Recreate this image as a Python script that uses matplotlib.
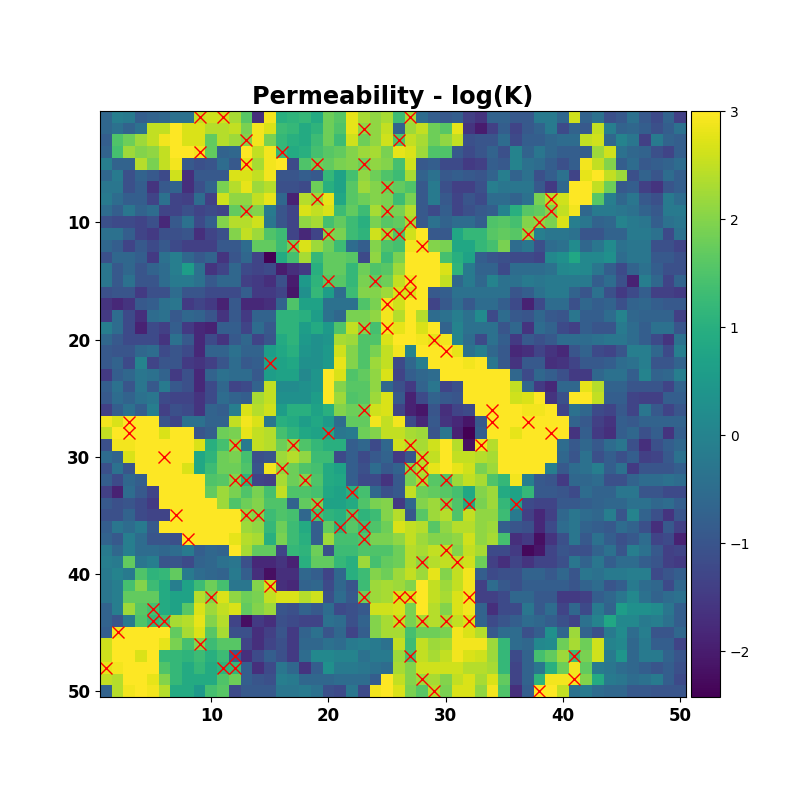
import numpy as np
import matplotlib
matplotlib.use("Agg")
import matplotlib.pyplot as plt
from mpl_toolkits.axes_grid1 import make_axes_locatable

title = "Permeability - log(K)"

# each row: columns 1-25 then columns 26-50
rows_top = [
[-0.6,-0.1,-0.2,-0.8,-0.7,-0.6,-0.4,-0.4,2.5,2.6,2.6,2.3,1.6,-1.7,2.9,1.0,1.1,1.2,0.9,1.8,1.6,2.8,2.3,2.1,2.3, 1.3,2.3,-0.5,-0.8,-0.9,-0.8,-1.4,-1.6,-0.7,-0.7,-0.9,-0.9,-0.2,-0.2,-0.6,2.6,-0.7,-0.4,-1.1,-0.9,-0.4,-0.9,-1.2,-0.7,-1.4],
[-0.6,-0.4,-0.7,-0.4,2.5,2.5,3,2.7,2.7,2.4,2.4,2.5,1.9,2.9,2.7,1.3,1.2,0.9,1.1,1.8,1.5,2.8,2.1,2.1,2.5, -0.7,2.2,2.5,1.8,1.6,2.8,-1.6,-2.0,-1.4,-0.8,-1.3,-0.9,-0.7,-0.2,-1.2,-0.7,-0.9,2.5,-0.1,-0.7,-0.6,-0.8,-1.1,-0.8,-0.4],
[-0.8,1.5,1.8,2.2,2.5,2.9,3,2.7,2.7,1.7,2.4,2.2,2.0,2.9,1.9,1.2,1.0,0.9,1.3,1.8,1.3,2.6,1.8,2.1,2.6, 1.5,2.5,2.3,1.8,2.1,2.5,-1.1,-1,-1,-0.5,-1.2,-0.8,-0.8,-0.6,-0.5,-0.5,2.5,2.6,-0.6,0.0,-0.3,-1.4,-0.2,-0.7,-0.8],
[-0.7,1.4,2.2,2.0,2.1,2.5,3,3,2.9,1.7,-0.7,-0.6,3,2.5,2.9,1.2,0.9,1.0,1.4,1.6,1.7,2.0,2.2,2.3,1.9, 2.8,2.7,2.2,1.5,1.5,-0.9,-1.2,-1,-0.7,-1.1,0.0,-0.7,-0.3,-0.6,-0.8,-0.8,-0.8,2.2,2.6,-0.4,-0.6,-0.7,-1.1,-1.3,-0.8],
[-0.1,-0.7,-0.7,2.4,1.9,2.5,2.9,-0.9,-1.1,-1,-0.5,-0.9,2.8,2.3,2.9,3,-1.2,1.5,1.8,1.7,1.9,2.0,1.8,2.1,2.0, 1.4,2.6,-0.9,-0.8,-1.2,-1.2,-1.5,-1.4,-0.8,-0.9,0.0,-0.4,-0.5,-0.8,-1.1,-0.8,2.9,2.5,2.0,-0.8,-0.5,-0.9,-0.8,-0.7,-0.5],
[-0.6,-0.2,-1.1,-0.7,-0.9,-1.2,2.6,-1.7,-0.9,-0.9,-0.9,2.7,2.7,2.5,2.9,-1.0,-1.0,-0.8,-0.9,1.2,0.7,1.4,2.1,1.8,1.5, 1.3,2.3,-0.7,-0.4,-0.9,-0.8,-0.9,-1.0,-0.7,-0.1,-0.7,-0.4,-1.1,-0.8,-0.4,-1.3,2.8,3,2.5,2.2,-1.1,-0.7,-1,-0.5,-0.8],
[-0.3,-0.3,-1.1,-0.8,-1.6,-0.9,-0.7,-1.7,-1.1,-0.7,1.9,2.4,2.8,2.2,2.4,-1.1,-1.1,-1.2,1.8,1.0,0.7,1.6,2.2,2.0,1.8, 1.7,1.5,-0.9,-0.2,-1.1,-1.4,-1.4,-1.1,-0.1,-0.3,-0.3,-0.3,-0.9,-1.5,-0.6,3,3,2.5,1.8,-0.9,-0.8,-1.4,-1.6,-1.0,-0.8],
[-0.2,-0.5,-0.8,-0.8,-1.3,-0.4,-1.3,-1.4,-0.5,-1.4,2.6,2.1,2.1,2.5,2.8,-0.6,-1.9,2.4,2.2,2.8,0.8,1.6,1.8,2.0,1.9, 1.3,1.9,-0.9,-0.2,-0.9,-1.3,-1,-1.2,-0.5,-0.5,-0.7,-0.4,1.9,2.4,2.6,3,3,1.6,-0.1,-0.6,-0.3,-0.9,-1.1,-0.2,-0.5],
[-0.5,-0.8,-0.3,-0.7,-0.5,-1.3,-1.3,-1.1,-1.3,-1.2,-1.3,1.7,1.9,2.0,-0.2,-1,-1.3,2.7,2.5,2.7,1.3,1.7,1.3,2.3,1.9, 1.9,2.4,-0.9,-1.2,-0.8,-1.3,-1.1,-0.9,-0.8,-0.0,1.0,1.6,1.7,2.0,2.5,2.9,-0.6,-0.2,-0.2,-0.3,-0.4,-0.7,-0.9,-0.2,-0.2],
[-1.1,-1.2,-1.2,-1.3,-1.1,-1.8,-0.9,-0.4,-1.2,-0.8,2.0,2.4,2.4,2.6,-0.3,-1,-1.3,2.1,2.3,1.4,1.7,1.3,1.0,1.9,1.6, 1.7,2.3,-0.9,-0.4,-0.7,-0.5,-0.5,-0.8,1.5,1.6,1.4,2.0,2.1,1.9,2.7,-0.1,-0.3,-0.7,-0.6,0.0,-0.2,-0.3,-0.8,-0.4,-0.3],
[-0.4,-0.4,-0.8,-1.3,-1.5,-1.1,-1.1,-1.0,-1.7,-1.3,-1.1,2,2.5,2.2,1.5,1.3,-1.3,-1.8,-1.3,2.0,1.9,1.3,1.1,2.6,2.2, 1.5,2.6,3,-0.9,-0.9,0.8,1.2,1.2,1.6,1.7,1.6,2.1,-0.1,-0.3,-0.3,-0.4,-1.0,-1.0,-0.7,-0.7,-0.2,-0.2,-0.4,-1.2,-0.4],
[-0.6,-0.8,-1.3,-0.9,-1.2,-0.9,-1.2,-1.4,-1.4,-1.4,-0.9,-0.9,-0.5,1.7,1.7,1.3,1.8,2.7,2.2,1.8,1.3,-0.5,-0.8,2,1.5, 1.4,2.9,2.9,2.0,1.9,0.8,0.8,1.2,1.4,1.9,-0.5,-0.3,-1.1,-0.5,-0.4,0.2,-0.6,-0.3,0.2,-0.4,-0.3,-0.3,-1.1,-1.1,-1.3],
[-1.1,-0.6,-0.6,-0.8,-1.5,-0.4,-0.1,-0.6,-0.9,-0.7,-1.6,-1.0,-0.6,-1.3,-2.4,0.9,1.4,2.3,1.2,1.7,1.7,1.6,-1.2,2.1,1.3, 1.9,3,3,3,1.4,1.0,0.7,-0.8,-1,-1.1,-1.2,-1.2,-1.3,0.1,0.3,0.8,0.1,0.1,0.3,-0.5,-0.3,-0.3,-0.9,-0.9,-1.1],
[-0.3,-0.9,-0.6,-1.0,-0.7,-0.5,-0.1,0.6,-0.4,-1.6,-1.3,-0.6,-1.2,-1.3,-1.2,-2.0,-1.7,-1.5,1.0,1.7,1.7,1.2,1.8,1.5,1.6, 2.2,3,3,3,2.7,1.1,-0.2,-0.7,-0.7,-1.2,-0.5,-0.5,-0.5,-0.4,0.1,0.2,0.1,-0.3,-0.8,-1.2,-0.7,-0.4,-0.8,-1.1,-1.1],
[-0.3,-0.9,-0.4,-1.0,-1.0,-0.5,-0.2,-0.2,-0.4,-0.9,-0.6,-0.6,-1.4,-1.5,-1.7,-1.1,-2.0,0.5,1.1,1.6,1.6,1.2,1.9,1.7,1.8, 2.5,2.9,3,3,2.5,-0.6,-0.2,-0.6,0.0,-0.4,-0.4,-0.2,-0.3,-0.2,-0.2,-0.2,-0.2,-0.8,-0.5,-1.1,-1.9,-0.1,-0.6,-1.3,-0.7],
[-1.1,-1,-1,-1.5,-1.1,-1.1,-0.5,-1,-1,-1.2,-1.2,-1.2,-0.8,-1.5,-1.5,-1.3,-2.1,0.3,1.2,0.6,-0.5,1.3,2,2,2.2, 2.7,2.7,3,-0.9,-0.8,-0.4,-0.4,-0.4,-0.4,-0.4,-1.0,-0.8,-0.4,-0.2,-0.2,-0.7,-1,-0.4,-1.1,-1.5,-1.2,-0.8,-1.4,-1.4,-1.5],
[-1.6,-1.8,-1.6,-0.9,-0.8,-0.4,-0.3,-1.5,-1.3,-1.5,-1.9,-0.9,-1.8,-1.8,-1.7,-0.7,1.5,0.7,0.7,-0.4,-0.4,-0.4,1.5,1.9,2.9, 2.6,3,3,-1.3,-0.9,-0.5,-0.9,-0.5,-0.5,-0.8,-1.2,-1.9,-1.2,-0.5,-0.5,-1.1,-0.6,-0.8,-0.7,-1.1,-0.7,-0.6,-0.8,-0.9,-0.9],
[-1.5,-0.5,-1.2,-1.7,-0.5,-0.4,-0.9,-0.6,-0.7,-1,-1.6,-0.9,-1.5,-0.7,-0.7,1.1,1.1,1.0,0.6,-0.4,-0.6,1.9,1.9,2.1,2.9, 2.4,3,2.4,-0.5,-0.4,-0.1,-0.4,0.2,-1.2,-0.5,-0.9,-1.0,-0.6,-0.9,-1.0,-0.3,-0.8,-0.8,-0.5,0.0,-0.6,-0.7,-0.7,-0.7,-1.4],
[-0.1,-0.5,-1.2,-1.9,-1.2,-1.4,-0.8,-1.5,-1.8,-1.9,-0.8,-0.8,-1.3,-0.5,-0.9,1.1,1.1,0.6,0.9,0.5,1.5,2.5,2.0,1.4,2.9, 2.8,3,2.7,3,-0.7,0.0,-0.4,-0.4,-0.4,-1.0,-0.6,-1.6,-0.5,-0.7,-1.2,-1.4,-0.8,-1,-1,-0.2,-0.5,-0.8,-0.4,-0.4,-1],
[-0.6,-0.9,-1.2,-1.2,-1.2,-1.6,-0.4,-0.9,-1.8,-1.2,-1.6,-0.9,-0.6,-1.3,-1.0,0.9,1.1,0.5,0.3,0.4,2.3,2.2,1.5,1.5,2.7, 3,3,2.9,2.8,2.9,0.0,-0.5,-1.2,-0.4,-0.8,-1.5,-0.9,-1.1,-0.9,-0.5,-0.5,-0.5,-0.4,-0.3,-0.3,-0.5,-0.8,-1.2,-1.6,-0.4],
[-0.9,-1,-1,-0.6,-0.5,-1.2,-1,-1.2,-1.8,-0.7,-0.7,-0.4,-0.7,-0.7,0.6,0.8,1.0,0.4,0.3,0.5,2.6,2.0,1.5,1.9,2.5, 2.9,-0.0,3,3,3,2.8,-0.4,-0.1,-0.6,-0.9,-1.8,-1.7,-1.3,-1.6,-1.8,-1.0,-0.7,-1.2,-1.3,-1.0,-0.1,-0.1,-0.6,-1.2,-0.1],
[-0.9,-0.7,-1.2,-0.0,-1.3,-1,-1,-1.5,-1.6,-1.4,-1,-0.5,-0.9,-0.8,0.7,0.7,0.8,0.3,0.3,0.5,2.8,2.0,1.5,2.2,2.5, -1.2,-0.6,-0.1,3,3,3,2.9,3,-0.3,-0.9,-1.6,-0.9,-0.9,-1.7,-1.6,-1.3,-0.9,-0.9,-0.8,-0.5,-0.4,-0.1,-1,-1,-0.7],
[-1.5,-0.8,-0.6,-0.3,-0.4,-0.7,-1.5,-1.1,-1.8,-0.7,-0.4,-0.5,-0.5,-0.9,0.6,0.7,0.7,0.1,0.4,3,2.7,1.5,1.7,2.1,2.7, -1.3,-0.8,-0.6,-0.5,3,3,3,3,3,3,-0.6,-1.2,-0.6,-0.8,-1.1,-1.5,-1.5,-0.6,-0.4,-0.4,-0.8,0.0,-0.7,-0.6,-0.1],
[-0.8,-0.4,-1,-0.3,-0.9,-0.2,-0.9,-1.1,-1.8,-1.2,-0.6,-1.3,-1.2,-0.7,2.5,0.2,0.2,0.3,0.4,3,2,1.6,1.6,2.1,-0.6, -1.1,-1.5,-0.7,-0.3,-1.3,-1.1,3,3,3,3,2.5,-0.6,-1.5,-1.8,-0.6,-0.6,2.8,2.4,-0.7,-0.7,-1,-1,-1,-1.3,-0.7],
[-0.9,-0.5,-0.7,-0.4,-0.3,-1.2,-1.3,-1.3,-1.6,-1.2,-0.5,-0.7,-0.8,2.3,2.5,0.3,0.3,0.3,0.6,3,2.2,1.5,1.6,2.2,2.7, -0.9,-1.9,-1.2,-0.7,-0.9,-1.0,3,3,3,3,2.6,2.7,3,-1.6,-1.1,3,3,2.5,-0.8,-0.8,-1.3,-1.4,-1.4,-0.8,-0.8],
]
rows_bottom = [
[-1.4,-0.8,-0.4,-0.8,-0.1,-1.4,-1.1,-1.2,-1.6,-0.7,-0.8,-0.1,2.7,2.4,2.6,0.6,1.0,1.0,0.7,1.0,2.0,1.8,1.8,2.6,2.7, -1.3,-1.9,-2.1,-1.0,-1.7,-1.3,-1.2,3,3,3,3,2.9,2.9,3,-1.3,-0.4,-0.6,-1.2,-1.3,-0.9,-1.3,-0.3,-0.9,-1.3,-1.0],
[2.9,2.7,3,3,3,-1.0,-1.3,-0.4,-0.4,-0.7,-0.7,2.5,2.9,2.7,-0.3,1.0,0.9,0.6,0.8,0.5,-0.5,1.7,1.7,2.9,2.5, 2.9,-1.2,-1.8,-0.9,-1.6,-1.8,-2.1,-0.9,3,3,3,3,3,3,3,-0.7,-0.9,-1.4,-1.6,-0.8,-0.9,-0.7,-0.7,-0.7,-0.7],
[2.5,3,3,3,3,2.7,3,3,-1.0,-0.8,1.8,1.9,2.8,2.5,2.4,1.4,1.1,0.8,0.7,0.8,-0.3,-0.2,1.8,2.0,2.5, 2.5,2.3,2.2,-1.0,-0.3,-1.9,-2.4,-0.8,3,3,2.8,3,3,3,3,-1.6,-0.8,-1.5,-1.7,-0.8,-0.6,-1.1,-0.8,-1.6,-0.8],
[-1.1,2.9,2.9,3,3,3,3,3,2.7,1.0,1.4,2.1,-0.2,2.5,2.4,1.8,2.1,1.5,1.2,1.0,1.0,-0.8,-0.6,-1.2,-0.6, 2.6,2.4,2.3,2.6,3,2.4,-2.2,2.9,2.4,3,3,3,3,3,-0.5,-0.9,-0.6,-0.9,-0.5,-0.3,-1.1,-1.7,-1.1,-0.8,-0.6],
[-0.5,-0.7,2.7,3,3,3,3,3,0.8,1.1,1.8,1.9,1.4,-1.1,-1.0,2.2,2.4,2.1,1.3,1.3,-1.2,-0.8,-1.2,-0.9,-0.7, -1.5,-1.0,2.4,2.5,3,2.5,2.5,2.4,2.3,3,3,3,3,3,-0.6,-1,-0.4,-1.1,-0.8,-1.1,-0.8,-1.4,-1.3,-0.9,-0.4],
[-1.1,-0.4,-1.0,3,3,3,3,2.7,0.8,1.3,1.8,1.8,1.5,-1.0,2.9,2.1,1.8,1.5,1.4,0.9,0.7,-0.8,-1.1,-0.5,-0.9, -0.7,2.0,2.4,2.8,3,2.8,2.6,1.9,2.2,3,3,3,3,-0.1,-0.9,-0.5,-0.4,-0.1,-0.8,-0.4,-1.5,-1.0,-1.0,-1.0,-0.8],
[-0.8,-1.2,-0.6,-0.8,3,3,3,3,3,1.5,1.6,2.0,1.1,-1.3,-1.4,2.3,1.8,2.0,1.5,0.9,0.8,-0.8,-1.2,-1.2,-1.6, -0.9,1.9,2.3,1.6,1.5,2.2,2.5,2.3,1.5,1.2,2.9,-0.1,-0.9,-1.0,-1.5,-0.6,-0.6,-0.5,-1.1,-1.1,-0.7,-0.5,-0.5,-0.4,-0.5],
[-1.4,-1.9,-0.5,-0.9,-1.3,3,3,3,3,1.7,2.2,1.9,1.5,1.9,1.4,2.5,1.5,1.5,1.4,0.8,0.7,1.0,1.4,-0.6,-1.1, -0.9,2.5,1.8,1.7,1.6,1.4,0.8,2.0,2.2,0.9,0.7,1.2,-0.9,-0.9,-1.0,-1.2,-0.5,-0.7,-0.7,-0.3,-0.3,-1,-1,-1.2,-1.2],
[-0.9,-1.1,-1.0,-1.2,-1.5,3,3,3,3,3,2.2,1.5,1.8,2.0,1.5,1.5,-0.7,1.7,1.9,0.7,0.7,0.9,1.5,1.9,2.0, -1.5,-0.6,2.0,2.2,1.9,1.5,0.9,1.9,2.2,1.2,0.7,-1.2,-1.3,-1.3,-0.9,-0.9,-0.8,-0.7,-0.6,-0.6,-0.4,-0.4,-0.6,-0.5,-0.8],
[-1.1,-1.1,-0.7,-1.2,-1.3,-1.3,3,3,3,3,3,3,2.1,2.0,1.3,1.5,1.4,-0.6,1.4,1.1,1.0,1.5,1.1,1.3,2.0, 2.4,-0.9,1.6,2.2,2.4,1.5,2.5,2.1,2.1,1.3,-0.2,-1.4,-1.8,-1.4,-0.6,-0.3,-0.5,-0.6,-0.1,-1.0,0.0,-0.7,-1.1,-1.6,-1.0],
[-0.8,-0.3,-0.5,-0.2,-0.9,3,3,3,3,3,3,3,2.2,2.1,1.2,1.8,1.3,0.9,-0.8,1.7,1.1,1.6,1.3,1.5,1.8, 2.7,2.5,2.4,1.6,2.1,2.4,2.4,2.1,2.2,-0.8,-1.0,-1.1,-1.8,-1.2,-0.5,-0.3,-0.7,-0.8,-0.9,-0.5,-0.7,-1.1,-1.7,-0.9,-1.4],
[-0.7,-0.9,-0.1,-0.5,-1,-1,-1.1,3,3,3,3,2.8,2.4,2.3,1.0,1.9,1.3,1.0,-0.8,2.2,1.4,1.4,1.5,1.9,1.9, 2.1,2.5,2.2,2.0,2.0,2.1,2.6,2.1,2.3,1.4,-1.7,-1.5,-2.2,-1.6,-1.1,-0.3,-0.9,-0.4,-0.8,-1.1,-0.9,-0.5,-1.3,-1.2,-1.9],
[-0.2,-0.6,-0.1,-0.5,-0.5,-0.6,-0.5,-0.2,-0.8,-0.6,-0.7,3,2.3,1.7,1.7,-1.3,1.2,1.1,1.8,-1.1,1.3,1.3,1.5,1.5,1.5, 1.8,2.4,2.3,2.5,2.5,2.0,2.5,2.3,-1.2,-1.2,-1.5,-2.3,-2.1,-1.3,-1.0,-1.1,-1.1,-0.7,-0.4,-1.0,-0.1,-0.4,-0.9,-1.4,-1.3],
[-0.1,-0.2,1.7,-0.3,-0.1,-1,-1,-1.2,-0.7,-0.6,-0.4,-0.3,-1.1,-1.8,-1.8,-1.6,-1.9,1.0,1.7,1.7,1.2,1.0,2.2,1.4,1.7, 1.8,2.4,2.1,2.4,2.5,2.5,2.6,1.8,-1.4,-1.7,-1.3,-1.6,-1.3,-1.3,-1.1,-0.3,-0.7,-0.3,-0.8,-0.5,-0.5,-0.8,-1.0,-1.4,-1.5],
[-0.2,0.0,-0.2,1.5,1.1,1.2,1.7,-0.2,-0.5,-0.6,-0.7,-0.2,-0.8,-1.7,-2.2,-1.7,-1.7,-0.6,-0.8,-1.3,-0.6,1.0,1.3,2.0,1.8, 2.2,2.5,2.2,2.8,2.0,2.5,2.9,-0.8,-1.2,-1.1,-1.1,-0.7,-0.7,-0.9,-0.6,-1.0,-0.3,-0.4,-0.2,-0.2,-0.1,-0.1,-1.2,-1.0,-0.8],
[-0.3,-0.1,1.4,2.0,1.3,0.9,-0.1,0.7,1.3,1.8,1.4,-0.3,-0.3,2.0,2.6,-1.7,-1.8,-0.7,-0.6,-1.2,-0.6,-1.0,1.3,2.2,2.3, 2.2,2.0,3,2.5,2.2,2.5,2.9,-1.4,-0.5,-0.9,-1.1,-0.8,-0.8,-0.8,-0.8,-1,-0.7,-0.5,-1,-0.8,-0.2,-0.5,-0.6,-1.2,-0.6],
[-0.3,-0.1,1.7,1.7,1.7,0.9,0.7,0.7,2.4,2.0,2.7,2.1,1.8,1.9,2.5,2.7,2.7,2.4,2.6,-1.1,-0.5,-0.9,1.8,2.2,2.3, 2.7,2.7,3,2.5,2.3,2.7,2.9,-1.4,-1.4,-1.2,-0.6,-0.6,-0.9,-0.9,-1.5,-1.5,-1.4,-0.8,-0.6,-0.3,0.1,-0.4,-0.7,-0.5,-0.4],
[-0.7,-0.1,2.2,1.6,1.4,0.9,0.7,1.6,2.7,2.2,2.5,2.7,1.7,2.0,2.2,-1.0,-1.1,-0.7,-0.9,-0.5,-1.2,-1.1,-0.9,2.6,2.6, 2.7,1.9,3,2.4,2.0,2.7,2.9,-0.7,-1.7,-1.2,-1.2,-0.3,-0.9,-0.5,-1.3,-0.6,-1.2,-0.2,-0.7,0.6,0.3,0.3,0.2,-0.3,-0.8],
[-0.7,-1.0,-0.2,1.5,1.2,1.4,2.3,2.4,2.8,2.0,2.4,-1.3,-2.2,-1.5,-1.7,-1.1,-1.2,-1.3,-1.3,-0.4,-0.5,-1.1,-0.7,2.0,2.3, 2.5,1.9,2.3,2.4,2.3,2.5,2.7,-0.7,-1.2,-1.0,-0.8,-0.5,-0.6,-0.8,-1.1,-1.3,-0.4,0.0,0.8,0.1,0.1,-0.2,-0.1,-0.4,-0.8],
[-0.8,2.9,3,3,3,3,1.7,2.3,2.7,1.6,2.3,-1.1,-1.1,-1.7,-1.4,-1.0,-1.5,-0.7,-0.4,-1.0,-0.6,-1.3,-0.8,2.0,2.3, 2.3,1.4,1.8,1.8,1.9,2.9,2.7,2.4,-0.9,-0.5,-0.5,-1.1,-0.8,0.3,-0.6,2.2,-0.7,-1.1,-0.2,0.2,-0.5,-0.1,-1.0,-1.0,-0.6],
[2.6,3,3,3,3,2.8,1.9,1.4,2.0,1.3,1.6,1.6,-1.3,-1.7,-1.3,-1.1,-1.5,-0.6,-0.6,-0.4,-0.5,-0.2,-0.1,-0.2,-0.4, 2.5,1.3,2.5,2.2,2.3,2.9,2.9,2.9,2.2,1.2,-0.5,-0.6,0.1,0.2,1.8,2.3,1.8,2.6,0.0,0.1,-0.6,-0.2,-0.8,-0.8,-1.3],
[2.6,3,3,2.7,3,1.2,1.2,1.1,1.3,1.0,1.3,-0.8,-1.7,-1.2,-0.8,-1.1,-1.5,-0.5,0.1,0.1,0.0,0.0,-0.4,-0.2,-0.2, 2.2,1.4,2.5,2.3,2.5,2.9,2.7,2.6,2.2,1.2,-1.2,-0.7,1.4,1.7,2.2,1.3,1.9,2.6,-0.2,0.4,-0.6,-0.2,-0.2,-0.7,-1.0],
[2.8,2.9,3,3,3,1.5,1.2,0.9,1.2,0.9,1.1,1.2,-0.8,-1.7,-1.2,-0.3,-0.6,-1.6,-0.8,0.3,-0.2,-0.2,-0.3,-0.4,-0.5, 2.3,2.0,2.6,2.6,2.6,2.6,2.4,2.4,2.3,1.2,-1.3,-0.7,-0.3,1.0,1.8,2.9,1.7,-0.2,-0.3,-0.5,-0.6,-0.8,-1,-0.8,-1.1],
[2.5,2.4,3,3,2.8,2.0,1.2,0.9,0.9,0.9,1.5,1.8,-0.8,-1.0,-1.1,-0.1,-0.2,-0.6,-0.6,-0.6,-0.5,-0.5,-0.5,-0.8,3, 2.5,2.0,2.2,2.3,2.0,2.5,2.7,2.3,2.7,1.7,-1.3,-0.7,1.1,2.9,2.9,2.9,2.0,0.9,-0.2,-0.3,-0.5,-0.4,-0.2,-0.8,-1.2],
[-0.7,2.4,2.9,3,2.9,2.4,0.9,0.9,0.5,1.4,1.6,-1.2,-0.9,-0.9,-0.9,-0.3,-0.3,-0.2,-0.4,-1.1,-1.2,-0.3,-1.2,2.9,3, 2.7,1.9,1.6,2.4,1.9,2.7,2.7,2.1,2.9,1.5,-1.7,-0.8,3,3,2.5,-0.4,-0.2,-0.5,-0.6,-0.6,-0.9,-0.9,-1,-1,-1],
]

well_x = [9,11,27, 23, 13,26, 9,16, 13,19,23, 25, 19,39, 13,25,39, 27,38, 20,25,26,37, 17,28,
          20,24,27, 26,27, 25, 23,25, 29, 30, 15, 23,34, 3,34,37, 3,20,39, 12,17,27,33, 6,28,
          16,27,28, 12,13,18,28,30, 22, 19,30,32,36, 7,13,14,19,22, 21,23, 8,23, 30, 28,31,
          15, 10,23,26,27,32, 5, 5,6,26,28,30,32, 2, 9, 12,27,41, 1,11,12, 28,41, 29,38]
well_y = [1,1,1, 2, 3,3, 4,4, 5,5,5, 7, 8,8, 9,9,9, 10,10, 11,11,11,11, 12,12,
          15,15,15, 16,16, 17, 19,19, 20, 21, 22, 26,26, 27,27,27, 28,28,28, 29,29,29,29, 30,30,
          31,31,31, 32,32,32,32,32, 33, 34,34,34,34, 35,35,35,35,35, 36,36, 37,37, 38, 39,39,
          41, 42,42,42,42,42, 43, 44,44,44,44,44,44, 45, 46, 47,47,47, 48,48,48, 49,49, 50,50]

grid = np.array(rows_top + rows_bottom, dtype=float)

fig, ax = plt.subplots(figsize=(8, 8), dpi=100)
im = ax.imshow(grid, cmap="viridis", vmin=-2.42, vmax=3,
               extent=[0.5, 50.5, 50.5, 0.5], interpolation="nearest")
ax.plot(well_x, well_y, "x", color="red", markersize=8.5, markeredgewidth=1.0)
ax.set_xlim(0.5, 50.5)
ax.set_ylim(50.5, 0.5)
ax.set_xticks([10, 20, 30, 40, 50])
ax.set_yticks([10, 20, 30, 40, 50])
ax.tick_params(labelsize=12)
for lab in ax.get_xticklabels() + ax.get_yticklabels():
    lab.set_fontweight("bold")
ax.set_title(title, fontsize=17.3, fontweight="bold", pad=5)

cax = make_axes_locatable(ax).append_axes("right", size="5%", pad=0.05)
cb = fig.colorbar(im, cax=cax)
cb.set_ticks([-2, -1, 0, 1, 2, 3])
cb.ax.tick_params(labelsize=10)

fig.savefig("out.png", dpi=100)
